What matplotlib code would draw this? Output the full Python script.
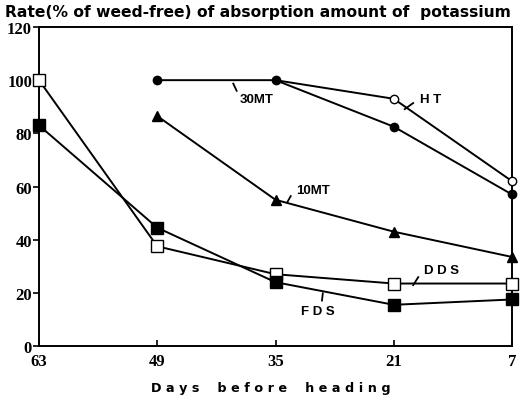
import numpy as np
import matplotlib
matplotlib.use("Agg")
import matplotlib.pyplot as plt

days = [63, 49, 35, 21, 7]
HT = [np.nan, np.nan, 100, 93, 62]
MT30 = [np.nan, 100, 100, 82.5, 57]
MT10 = [np.nan, 86.5, 55, 43, 33.5]
DDS = [100, 37.5, 27, 23.5, 23.5]
FDS = [83, 44.5, 24, 15.5, 17.5]
yticks = [0, 20, 40, 60, 80, 100, 120]

fig = plt.figure(figsize=(5.21, 4.06), dpi=100)
ax = fig.add_axes([39/521, 1-347/406, (512-39)/521, (347-28)/406])

lw = 1.4
ax.plot(days, HT, color='black', lw=lw, marker='o', ms=6, mfc='white', mec='black',
        markevery=[3, 4], zorder=3, clip_on=False)
ax.plot(days, MT30, color='black', lw=lw, marker='o', ms=6, mfc='black', mec='black', zorder=4, clip_on=False)
ax.plot(days, MT10, color='black', lw=lw, marker='^', ms=7, mfc='black', mec='black', zorder=4, clip_on=False)
ax.plot(days, DDS, color='black', lw=lw, marker='s', ms=9, mfc='white', mec='black', zorder=4, clip_on=False)
ax.plot(days, FDS, color='black', lw=lw, marker='s', ms=9, mfc='black', mec='black', zorder=4, clip_on=False)

ax.set_xlim(63, 7)
ax.set_ylim(0, 120)
ax.set_xticks(days)
ax.set_yticks(yticks)
ax.set_xticklabels([str(d) for d in days], family='Liberation Serif', fontweight='bold', fontsize=12)
ax.set_yticklabels([str(v) for v in yticks], family='Liberation Serif', fontweight='bold', fontsize=12)
ax.tick_params(axis='x', direction='in', length=4, width=1.2, pad=5)
ax.tick_params(axis='y', direction='out', length=4, width=1.2, pad=1)
for s in ax.spines.values():
    s.set_linewidth(1.4)

lab = dict(family='Liberation Sans', fontweight='bold', fontsize=9.5, ha='center', va='center')
def note(text, xy_text, p0, p1):
    ax.text(xy_text[0], xy_text[1], text, **lab)
    ax.plot([p0[0], p1[0]], [p0[1], p1[1]], color='black', lw=1.3)

note('30MT', (37.2, 93), (39.6, 96), (40.0, 98.7))
note('H T', (16.6, 93), (19.7, 89.1), (18.7, 91.4))
note('10MT', (30.6, 58.7), (33.6, 54.1), (33.2, 56.4))
note('D D S', (15.3, 28.6), (18.7, 22.9), (18.1, 25.9))
note('F D S', (30.0, 13.0), (29.5, 17.1), (29.4, 19.8))

fig.text(5/521, 1-13/406, 'Rate(% of weed-free) of absorption amount of  potassium',
         family='DejaVu Sans', fontweight='bold', fontsize=11.2, ha='left', va='center')
fig.text(271/521, 1-389/406, 'D a y s    b e f o r e    h e a d i n g',
         family='DejaVu Sans', fontweight='bold', fontsize=9.2, ha='center', va='center')

fig.savefig('out.png', dpi=100)
